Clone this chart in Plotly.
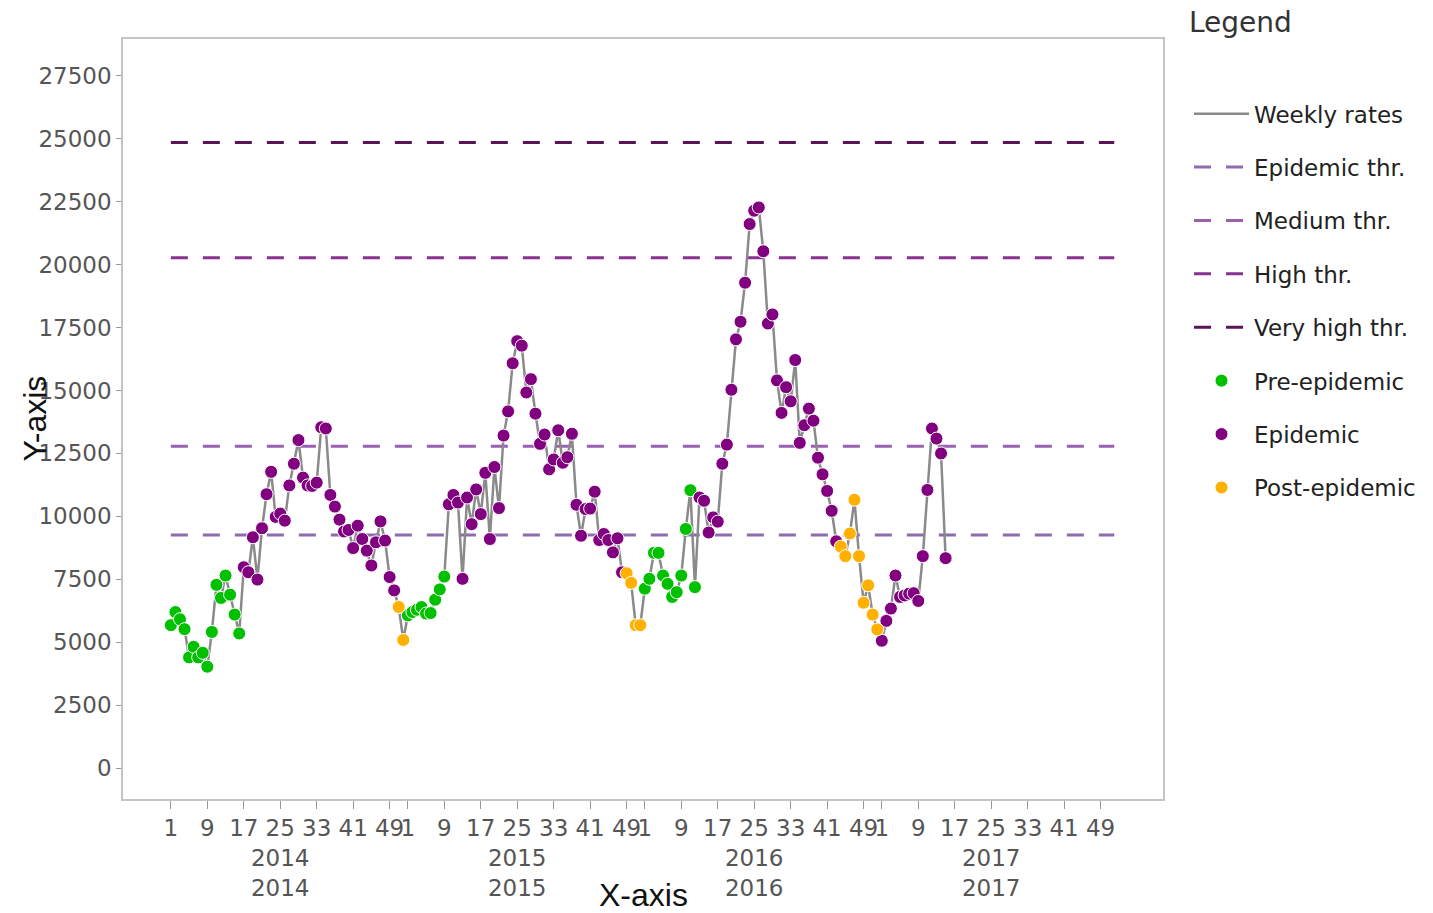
import plotly.graph_objects as go

# ---------------- data ----------------
years = [2014, 2015, 2016, 2017]
weeks_per_year = 52
week_ticks = [1, 9, 17, 25, 33, 41, 49]

rates_2014 = [5680, 6200, 5915, 5520, 4400, 4820, 4400, 4580, 4030, 5410,
              7280, 6760, 7650, 6890, 6100, 5350, 7980, 7780, 9170, 7490,
              9530, 10880, 11770, 9980, 10110, 9830, 11230, 12090, 13030, 11540,
              11230, 11210, 11340, 13540, 13490, 10850, 10390, 9870, 9400, 9460,
              8740, 9630, 9100, 8640, 8050, 8970, 9800, 9040, 7590, 7060,
              6400, 5090]
rates_2015 = [6070, 6200, 6290, 6400, 6140, 6160, 6690, 7100, 7610, 10480,
              10850, 10550, 7520, 10750, 9690, 11070, 10090, 11730, 9100, 11960,
              10330, 13210, 14170, 16080, 16960, 16780, 14920, 15450, 14080, 12880,
              13250, 11870, 12260, 13420, 12130, 12350, 13280, 10460, 9230, 10290,
              10310, 10980, 9060, 9300, 9060, 8570, 9130, 7780, 7740, 7360,
              5680, 5680]
rates_2016 = [7130, 7520, 8550, 8550, 7650, 7320, 6800, 6990, 7650, 9500,
              11040, 7190, 10750, 10620, 9360, 9960, 9790, 12090, 12850, 15030,
              17030, 17730, 19280, 21610, 22140, 22270, 20530, 17660, 18020, 15400,
              14110, 15130, 14570, 16210, 12920, 13620, 14280, 13800, 12330, 11670,
              11010, 10220, 9010, 8800, 8420, 9320, 10660, 8420, 6570, 7260,
              6100, 5510]
rates_2017 = [5060, 5850, 6340, 7650, 6800, 6860, 6930, 6950, 6640, 8420,
              11050, 13490, 13090, 12500, 8340]

# epidemic period (first and last epidemic week) of each season
epidemic_start = [17, 10, 13, 1]
epidemic_end = [50, 48, 43, 15]

threshold_names = ["Epidemic thr.", "Medium thr.", "High thr.", "Very high thr."]
threshold_values = [9257, 12790, 20270, 24850]
threshold_colors = ["#8c6bb1", "#9b5fb5", "#88338f", "#5a1557"]

phase_names = ["Pre-epidemic", "Epidemic", "Post-epidemic"]
phase_colors = ["#00c000", "#800080", "#ffb000"]

# ---------------- build series ----------------
season_rates = [rates_2014, rates_2015, rates_2016, rates_2017]
xs, ys, phases = [], [], []
for k, rates in enumerate(season_rates):
    for j, v in enumerate(rates):
        w = j + 1
        xs.append(k * weeks_per_year + j)
        ys.append(v)
        if w < epidemic_start[k]:
            phases.append(0)
        elif w <= epidemic_end[k]:
            phases.append(1)
        else:
            phases.append(2)

all_x = list(range(len(years) * weeks_per_year))

tickvals, ticktext = [], []
for k, yr in enumerate(years):
    for w in week_ticks:
        tickvals.append(k * weeks_per_year + w - 1)
        ticktext.append(f"{w}<br>{yr}<br>{yr}" if w == 25 else str(w))

fig = go.Figure()

for i, (nm, val, col) in enumerate(zip(threshold_names, threshold_values, threshold_colors)):
    fig.add_trace(go.Scatter(
        x=all_x, y=[val] * len(all_x), mode="lines", name=nm,
        line=dict(color=col, width=3, dash="17px,15px"),
        legendgroup=nm, legendrank=2 + i, hoverinfo="skip"))

fig.add_trace(go.Scatter(
    x=xs, y=ys, mode="lines", name="Weekly rates",
    line=dict(color="#8a8a8a", width=2.5),
    legendgroup="Weekly rates", legendrank=1))

for p, (nm, col) in enumerate(zip(phase_names, phase_colors)):
    px = [x for x, ph in zip(xs, phases) if ph == p]
    py = [y for y, ph in zip(ys, phases) if ph == p]
    fig.add_trace(go.Scatter(
        x=px, y=py, mode="markers", name=nm,
        marker=dict(color=col, size=13, line=dict(color="white", width=1)),
        legendgroup=nm, legendrank=6 + p))

tick_font = dict(family="DejaVu Sans", size=23, color="#555555")

fig.update_layout(
    width=1425, height=905,
    margin=dict(l=115, r=268, t=31, b=110),
    paper_bgcolor="white", plot_bgcolor="white",
    showlegend=True,
    legend=dict(
        x=1.025, y=0.93, xanchor="left", yanchor="top",
        font=dict(family="DejaVu Sans", size=23, color="#222222"),
        traceorder="grouped", tracegroupgap=20.5, itemwidth=55,
        maxheight=900,
        bgcolor="rgba(0,0,0,0)"),
    xaxis=dict(
        range=[-10.5, 217.7], tickmode="array", tickvals=tickvals, ticktext=ticktext,
        tickangle=0, tickfont=tick_font, ticks="outside", ticklen=8, tickcolor="#999999",
        showgrid=False, zeroline=False, showline=True, mirror=True,
        linecolor="#c4c4c4", linewidth=1.5),
    yaxis=dict(
        range=[-1225, 28960], tickmode="array", tickvals=list(range(0, 27501, 2500)),
        tickformat="d", tickfont=tick_font, ticks="outside", ticklen=5, tickcolor="#999999",
        showgrid=False, zeroline=False, showline=True, mirror=True,
        linecolor="#c4c4c4", linewidth=1.5),
    annotations=[
        dict(text="Legend", xref="paper", yref="paper", x=1.023, y=1.022,
             xanchor="left", yanchor="middle", showarrow=False,
             font=dict(family="DejaVu Sans", size=28, color="#333333")),
        dict(text="X-axis", xref="paper", yref="paper", x=0.5, y=-0.126,
             xanchor="center", yanchor="middle", showarrow=False,
             font=dict(family="Liberation Sans", size=32, color="#111111")),
        dict(text="Y-axis", xref="paper", yref="paper", x=-0.085, y=0.5,
             xanchor="center", yanchor="middle", textangle=-90, showarrow=False,
             font=dict(family="Liberation Sans", size=32, color="#111111")),
    ],
)

fig.write_html("out.html")
